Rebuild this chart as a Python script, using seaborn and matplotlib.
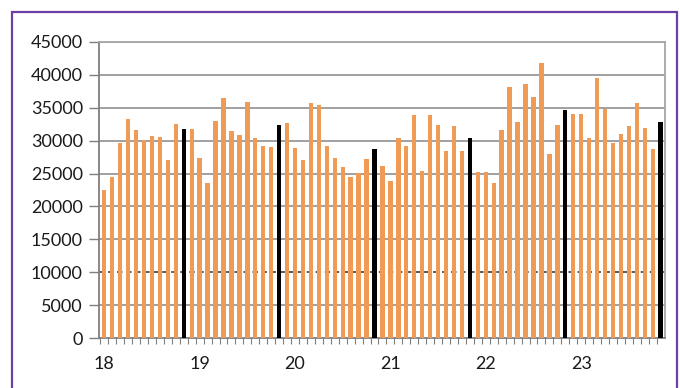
import matplotlib
matplotlib.use("Agg")
import matplotlib.pyplot as plt
import seaborn as sns
import pandas as pd
import numpy as np
from matplotlib.patches import Rectangle

# Monthly values; the last month of each year is highlighted
values = [
    22500, 24500, 29600, 33200, 31550, 30030, 30690, 30540, 27050, 32460, 31700,
    31750, 27400, 23500, 33000, 36450, 31500, 30790, 35900, 30440, 29120, 29070, 32360,
    32640, 28870, 27100, 35690, 35340, 29220, 27300, 25990, 24520, 25080, 27200, 28720,
    26140, 23860, 30330, 29120, 33820, 25380, 33920, 32300, 28460, 32150, 28360, 30330,
    25230, 25230, 23560, 31650, 38070, 32860, 38570, 36550, 41810, 27910, 32360, 34680,
    33970, 34020, 30440, 39530, 34730, 29580, 30940, 32200, 35740, 31900, 28720, 32860,
]
highlight_idx = [10, 22, 34, 46, 58, 70]
year_labels = ["18", "19", "20", "21", "22", "23"]
year_label_idx = [0, 12, 24, 36, 48, 60]
y_ticks = list(range(0, 45001, 5000))

df = pd.DataFrame({
    "idx": np.arange(len(values)),
    "value": values,
    "kind": ["end" if i in highlight_idx else "month" for i in range(len(values))],
})

sns.set_theme(style="white")
plt.rcParams["font.family"] = ["Lato", "DejaVu Sans"]

fig = plt.figure(figsize=(6.8, 3.88), dpi=100)
ax = fig.add_axes([0.1463, 0.1281, 0.9774 - 0.1463, 0.8925 - 0.1281])

sns.barplot(data=df, x="idx", y="value", hue="kind",
            palette={"month": "#EF9A55", "end": "#000000"},
            dodge=False, width=0.55, legend=False, ax=ax, zorder=3,
            saturation=1, linewidth=0)

ax.set_xlim(-0.6, len(values) - 0.5)
ax.set_ylim(0, 45000)
ax.set_yticks(y_ticks)
ax.set_yticklabels([str(v) for v in y_ticks], fontsize=13, color="#1a1a1a")

# horizontal grid
for v in y_ticks[1:]:
    if v == 10000:
        ax.axhline(v, color="#4d4d4d", lw=1.3, ls=(0, (3, 2)), zorder=1)
    else:
        ax.axhline(v, color="#999999", lw=1.3, zorder=1)

ax.set_xticks(year_label_idx)
ax.set_xticklabels(year_labels, fontsize=13, color="#1a1a1a")
ax.set_xticks(np.arange(len(values)) - 0.5, minor=True)
ax.tick_params(axis="x", which="major", length=0, pad=13)
ax.tick_params(axis="x", which="minor", length=4, width=0.8, color="#7f7f7f", bottom=True)
ax.tick_params(axis="y", length=7, width=1, color="#7f7f7f", pad=5, left=True)
ax.set_xlabel("")
ax.set_ylabel("")

for side in ["left", "bottom"]:
    ax.spines[side].set_color("#7f7f7f")
    ax.spines[side].set_linewidth(1.3)
for side in ["top", "right"]:
    ax.spines[side].set_color("#a6a6a6")
    ax.spines[side].set_linewidth(1.3)

# purple frame around the figure (open at the bottom)
fig.patches.append(Rectangle((12 / 680, -0.05), (677 - 12) / 680, 1.05 - 12 / 388,
                             transform=fig.transFigure, fill=False,
                             edgecolor="#6B3FA6", lw=1.6, zorder=10))

fig.savefig("out.png", dpi=100)
